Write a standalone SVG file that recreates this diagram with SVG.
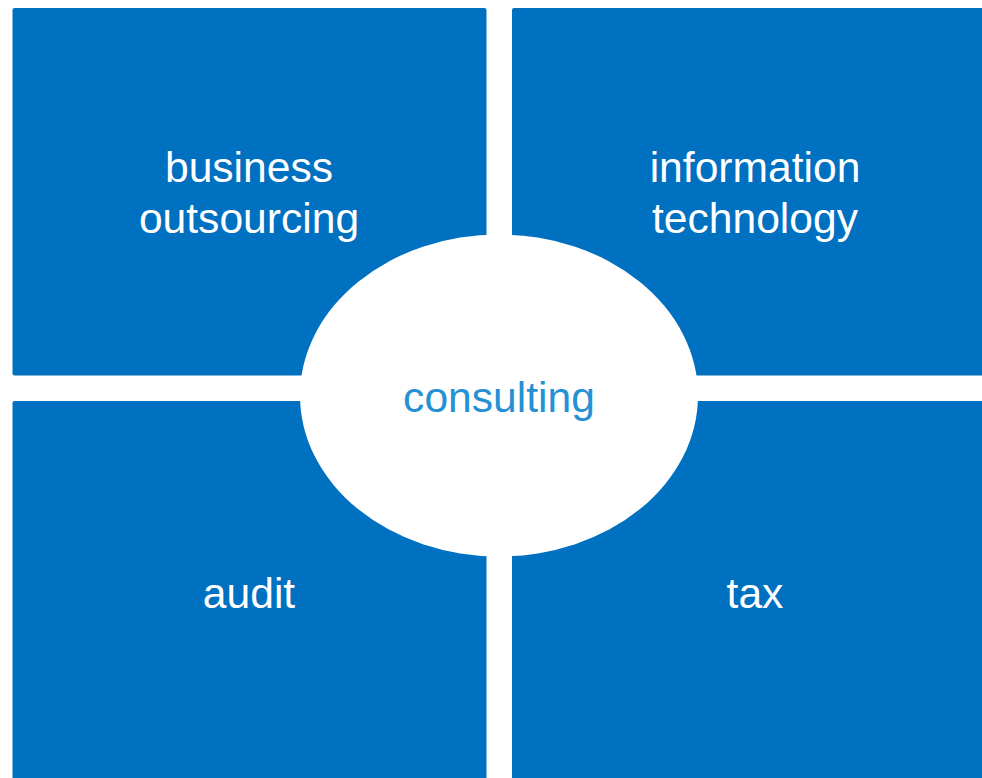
<svg xmlns="http://www.w3.org/2000/svg" width="982" height="778" viewBox="0 0 982 778">
<style>
.box{fill:#0070C0}
.t{font-family:"Liberation Sans",Arial,sans-serif;font-size:42.6px;fill:#fff;text-anchor:middle}
.c{font-family:"Liberation Sans",Arial,sans-serif;font-size:42.6px;fill:#2690D4;text-anchor:middle}
</style>
<rect width="982" height="778" fill="#fff"/>
<g id="business-outsourcing">
<rect class="box" x="12.5" y="8" width="474" height="367.5" rx="2"/>
<text class="t" x="249" y="182">business</text>
<text class="t" x="249" y="233">outsourcing</text>
</g>
<g id="information-technology">
<rect class="box" x="512" y="8" width="474" height="367.5" rx="2"/>
<text class="t" x="755" y="182">information</text>
<text class="t" x="755" y="233">technology</text>
</g>
<g id="audit">
<rect class="box" x="12.5" y="401" width="474" height="385" rx="2"/>
<text class="t" x="249" y="608">audit</text>
</g>
<g id="tax">
<rect class="box" x="512" y="401" width="474" height="385" rx="2"/>
<text class="t" x="755" y="608">tax</text>
</g>
<g id="consulting">
<ellipse cx="499" cy="395.5" rx="199" ry="161" fill="#fff"/>
<text class="c" x="499" y="412">consulting</text>
</g>
<g id="connectors"/>
</svg>
